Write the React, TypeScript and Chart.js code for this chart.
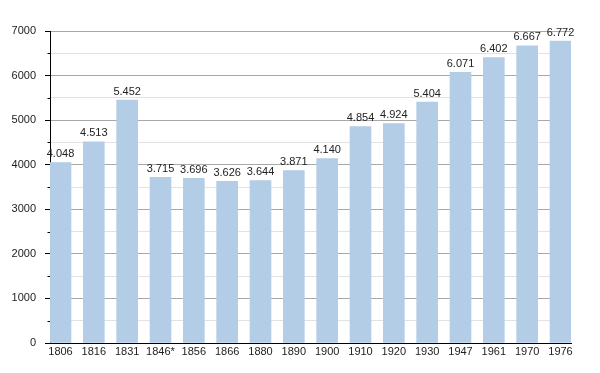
import React, { useEffect, useRef } from "react";
import { Chart, registerables } from "chart.js";

Chart.register(...registerables);

const categories = ["1806", "1816", "1831", "1846*", "1856", "1866", "1880", "1890", "1900", "1910", "1920", "1930", "1947", "1961", "1970", "1976"];
const population = [4048, 4513, 5452, 3715, 3696, 3626, 3644, 3871, 4140, 4854, 4924, 5404, 6071, 6402, 6667, 6772];
const yTicks = [0, 1000, 2000, 3000, 4000, 5000, 6000, 7000];

const FONT = "'Liberation Sans', Arial, sans-serif";

function fmt(v: number): string {
  const s = String(v);
  return s.length > 3 ? s.slice(0, s.length - 3) + "." + s.slice(s.length - 3) : s;
}

const labelPlugin = {
  id: "valueLabels",
  afterDatasetsDraw(chart: any) {
    const ctx = chart.ctx;
    const meta = chart.getDatasetMeta(0);
    ctx.save();
    ctx.font = `11px ${FONT}`;
    ctx.fillStyle = "#222";
    ctx.textAlign = "center";
    ctx.textBaseline = "bottom";
    meta.data.forEach((bar: any, i: number) => {
      ctx.fillText(fmt(population[i]), bar.x, bar.y - 3);
    });
    ctx.restore();
  },
};

const minorTickPlugin = {
  id: "minorTicks",
  afterDraw(chart: any) {
    const ctx = chart.ctx;
    const y = chart.scales.y;
    ctx.save();
    ctx.strokeStyle = "#000";
    ctx.lineWidth = 1;
    for (let v = 500; v < 7000; v += 1000) {
      const py = Math.round(y.getPixelForValue(v)) + 0.5;
      ctx.beginPath();
      ctx.moveTo(y.right - 2.5, py);
      ctx.lineTo(y.right, py);
      ctx.stroke();
    }
    ctx.restore();
  },
};

export default function App() {
  const ref = useRef<HTMLCanvasElement | null>(null);
  useEffect(() => {
    document.body.style.margin = "0";
    const chart = new Chart(ref.current as HTMLCanvasElement, {
      type: "bar",
      data: {
        datasets: [
          {
            data: population.map((v, i) => ({ x: i, y: v })),
            backgroundColor: "#b3cde6",
            borderWidth: 0,
            barThickness: 21,
          },
        ],
      },
      options: {
        animation: false,
        responsive: false,
        maintainAspectRatio: false,
        layout: { padding: { left: 0, top: 31, right: 29, bottom: 0 } },
        plugins: { legend: { display: false }, tooltip: { enabled: false } },
        scales: {
          x: {
            type: "linear",
            min: -0.315,
            max: 15.315,
            offset: false,
            afterBuildTicks(scale: any) {
              scale.ticks = categories.map((_, i) => ({ value: i }));
            },
            afterFit(scale: any) {
              scale.height = 30;
            },
            ticks: {
              autoSkip: false,
              maxRotation: 0,
              padding: 2,
              color: "#222",
              font: { family: FONT, size: 11 },
              callback: (v: any) => categories[v as number] ?? "",
            },
            grid: { display: false, drawTicks: false },
            border: { display: true, color: "#000", width: 1 },
          },
          y: {
            min: 0,
            max: 7000,
            afterBuildTicks(scale: any) {
              const t: any[] = [];
              for (let v = 0; v <= 7000; v += 500) t.push({ value: v });
              scale.ticks = t;
            },
            afterFit(scale: any) {
              scale.width = 50;
            },
            ticks: {
              autoSkip: false,
              padding: 9,
              color: "#222",
              font: { family: FONT, size: 11 },
              callback: (v: any) => (yTicks.includes(v as number) ? String(v) : ""),
            },
            grid: {
              color: (c: any) => (c.tick && c.tick.value % 1000 === 0 ? "#a8a8a8" : "#e2e2e2"),
              tickColor: (c: any) => (c.tick && c.tick.value % 1000 === 0 ? "#000" : "rgba(0,0,0,0)"),
              tickLength: 5,
              lineWidth: 1,
            },
            border: { display: true, color: "#000", width: 1 },
          },
        },
      },
      plugins: [labelPlugin, minorTickPlugin],
    } as any);
    return () => chart.destroy();
  }, []);
  return <canvas ref={ref} width={600} height={373} style={{ display: "block", width: 600, height: 373 }} />;
}
